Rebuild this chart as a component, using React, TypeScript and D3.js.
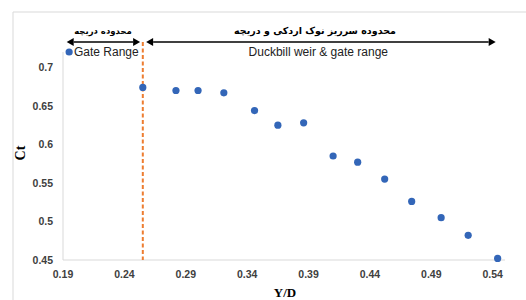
import React from "react";
import * as d3 from "d3";

// measured Y/D vs Ct
const yd = [0.195, 0.255, 0.282, 0.3, 0.321, 0.346, 0.365, 0.386, 0.41, 0.43, 0.452, 0.474, 0.498, 0.52, 0.544];
const ct = [0.72, 0.674, 0.67, 0.67, 0.667, 0.644, 0.625, 0.628, 0.585, 0.577, 0.555, 0.526, 0.505, 0.482, 0.452];

const xTicks = [0.19, 0.24, 0.29, 0.34, 0.39, 0.44, 0.49, 0.54];
const yTicks = [0.45, 0.5, 0.55, 0.6, 0.65, 0.7];

const gateLimit = 0.255;
const gateRange = [0.193, 0.2528];
const weirRange = [0.2577, 0.5424];
const gateLabels = ["محدوده دریچه", "Gate Range"];
const weirLabels = ["محدوده سرریز نوک اردکی و دریچه", "Duckbill weir & gate range"];

const W = 526;
const H = 300;

const Arrow = ({ x1, x2, y, left, right }) => {
  const s = 7;
  return (
    <g>
      <line x1={x1 + (left ? s : 0)} x2={x2 - (right ? s : 0)} y1={y} y2={y} stroke="#000" strokeWidth={1.6} />
      {left && <path d={`M${x1},${y} L${x1 + s},${y - 4} L${x1 + s},${y + 4} Z`} fill="#000" />}
      {right && <path d={`M${x2},${y} L${x2 - s},${y - 4} L${x2 - s},${y + 4} Z`} fill="#000" />}
    </g>
  );
};

export default function App() {
  const x = d3.scaleLinear().domain([0.19, 0.55]).range([63, 505]);
  const y = d3.scaleLinear().domain([0.45, 0.72]).range([260, 52]);
  const fmt = (v) => String(+v.toFixed(2));
  const tickFont = { fontFamily: "'Liberation Sans', Arial, sans-serif", fontWeight: "bold", fontSize: 10.5, fill: "#404040" };
  const faFont = { fontFamily: "'DejaVu Sans', sans-serif", fontWeight: "bold", fontSize: 9.5, fill: "#000" };
  const enFont = { fontFamily: "'Liberation Sans', Arial, sans-serif", fontSize: 12, fill: "#222" };
  const ay = 42;

  return (
    <svg width={W} height={H} style={{ position: "absolute", left: 0, top: 0, background: "#fff" }}>
      {/* chart border (only top and left visible) */}
      <line x1={13} x2={W} y1={12} y2={12} stroke="#d9d9d9" />
      <line x1={13} x2={13} y1={12} y2={H} stroke="#d9d9d9" />

      {/* axes */}
      <line x1={x(0.19)} x2={x(0.19)} y1={y(0.72)} y2={y(0.45)} stroke="#d9d9d9" />
      <line x1={x(0.19)} x2={x(0.55)} y1={y(0.45)} y2={y(0.45)} stroke="#d9d9d9" />

      {yTicks.map((t) => (
        <text key={t} x={53} y={y(t)} dy="0.35em" textAnchor="end" style={tickFont}>
          {fmt(t)}
        </text>
      ))}
      {xTicks.map((t) => (
        <text key={t} x={x(t)} y={278} textAnchor="middle" style={tickFont}>
          {fmt(t)}
        </text>
      ))}

      <text
        transform={`translate(25,153) rotate(-90)`}
        textAnchor="middle"
        style={{ fontFamily: "'Liberation Serif', 'Times New Roman', serif", fontWeight: "bold", fontSize: 14, fill: "#000" }}
      >
        Ct
      </text>
      <text
        x={285}
        y={297}
        textAnchor="middle"
        style={{ fontFamily: "'Liberation Serif', 'Times New Roman', serif", fontWeight: "bold", fontSize: 13, fill: "#000" }}
      >
        Y/D
      </text>

      {/* gate limit */}
      <line
        x1={x(gateLimit)}
        x2={x(gateLimit)}
        y1={ay}
        y2={y(0.45)}
        stroke="#ED7D31"
        strokeWidth={2}
        strokeDasharray="4,2.5"
      />

      {/* ranges */}
      <Arrow x1={x(gateRange[0])} x2={x(gateRange[1])} y={ay} left right />
      <Arrow x1={x(weirRange[0])} x2={x(weirRange[1])} y={ay} left right />
      <text x={103} y={34} textAnchor="middle" direction="rtl" style={{ ...faFont, fontSize: 8.5 }}>
        {gateLabels[0]}
      </text>
      <text x={74} y={56} style={enFont}>
        {gateLabels[1]}
      </text>
      <text x={315} y={34} textAnchor="middle" direction="rtl" style={faFont}>
        {weirLabels[0]}
      </text>
      <text x={388} y={56} textAnchor="end" style={enFont}>
        {weirLabels[1]}
      </text>

      {/* points */}
      {yd.map((v, i) => (
        <circle key={i} cx={x(v)} cy={y(ct[i])} r={3.6} fill="#3366B8" />
      ))}
    </svg>
  );
}
